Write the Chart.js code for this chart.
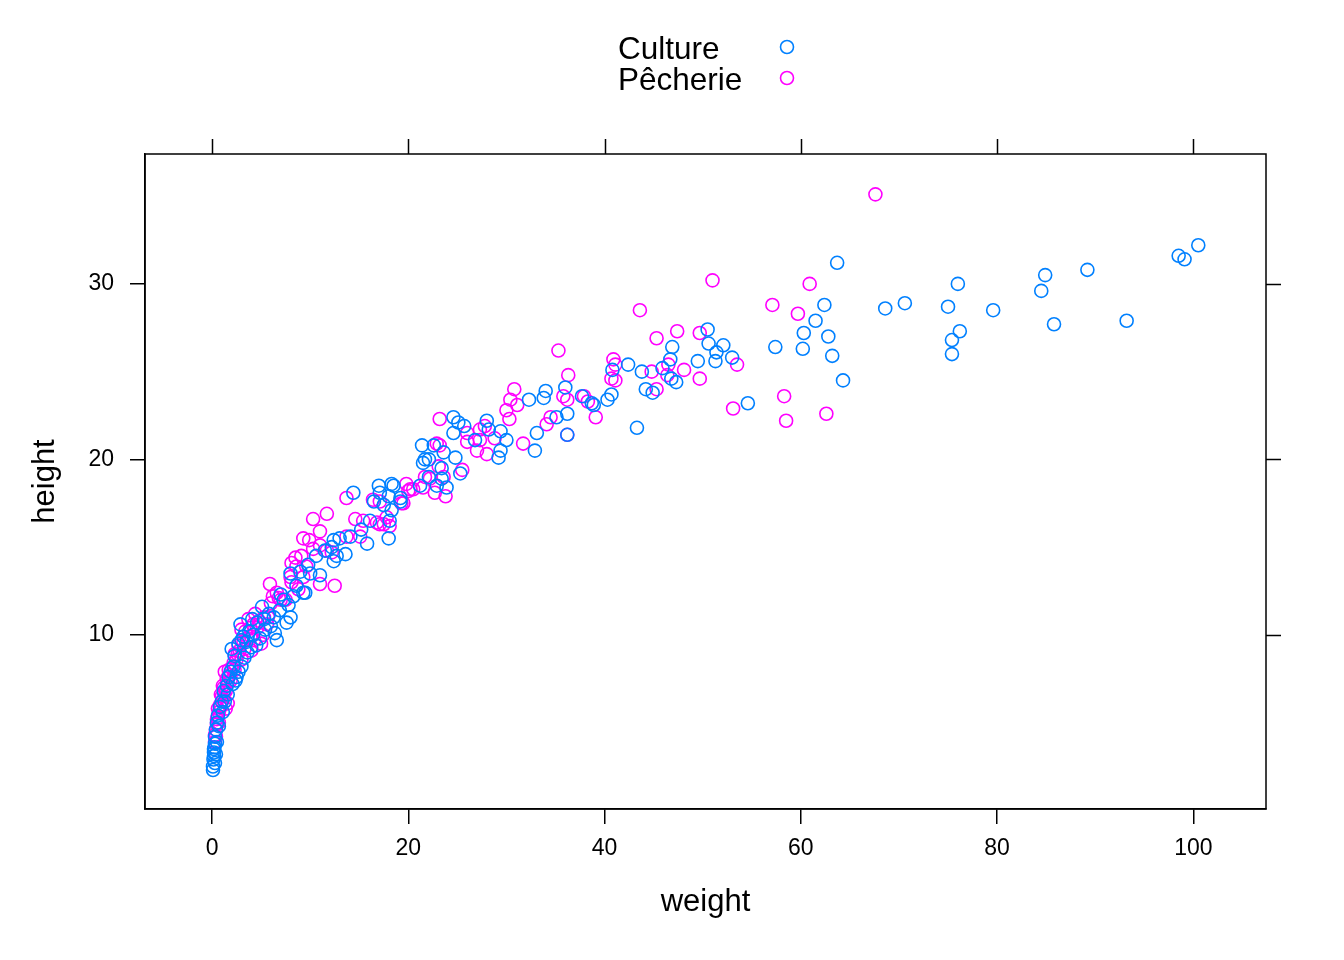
<!DOCTYPE html>
<html>
<head>
<meta charset="utf-8">
<script src="https://cdn.jsdelivr.net/npm/chart.js@4.4.0/dist/chart.umd.min.js"></script>
<style>
  html, body { margin: 0; padding: 0; background: #fff; }
  #wrap { width: 1344px; height: 960px; }
</style>
</head>
<body>
<div id="wrap"><canvas id="plot" width="1344" height="960"></canvas></div>
<script>
// groups
const groups = ['Culture', 'Pêcherie']
const colors = ['#0080ff', '#ff00ff']

// tick labels
const xTicks = [0, 20, 40, 60, 80, 100]
const yTicks = [10, 20, 30]

// Culture (weight, height)
const cultureWeight = [0.1, 0.1, 0.15, 0.2, 0.2, 0.25, 0.3, 0.2, 0.3, 0.4, 0.5, 0.6, 0.8, 1.0, 1.2, 1.5, 1.7, 1.9, 2.2, 2.5,
  2.7, 2.3, 2.0, 2.7, 2.9, 3.2, 3.5, 3.8, 4.2, 4.5, 4.9, 5.1, 5.4, 5.8, 6.4, 6.6, 6.3, 6.9, 7.3, 7.6,
  8.0, 7.8, 8.0, 8.6, 9.0, 9.3, 9.5, 9.8, 10.0, 10.6, 11.0, 11.5, 12.2, 12.4, 12.4, 12.7, 13.0, 13.6, 14.1, 14.4,
  15.2, 15.8, 16.1, 16.5, 17.0, 17.1, 17.5, 18.0, 18.0, 18.1, 18.3, 18.5, 18.3, 19.2, 19.2, 21.2, 21.4, 21.5, 21.7, 22.1,
  22.1, 22.6, 22.9, 23.4, 23.4, 23.6, 23.9, 24.6, 24.6, 24.8, 25.1, 25.3, 25.7, 26.8, 28.0, 28.2, 29.2, 29.4, 29.4, 30.0,
  32.3, 32.9, 33.1, 33.8, 34.0, 35.1, 36.0, 36.2, 36.2, 37.7, 38.7, 38.9, 40.3, 40.7, 40.8, 42.4, 43.3, 43.8, 44.2, 44.9,
  45.9, 46.7, 46.8, 46.9, 47.3, 49.5, 50.5, 50.6, 51.3, 51.4, 52.1, 53.0, 54.6, 57.4, 60.2, 60.3, 61.5, 62.4, 62.8, 63.2,
  63.7, 64.3, 68.6, 70.6, 75.0, 75.4, 75.4, 76.0, 76.2, 79.6, 84.5, 84.9, 85.8, 89.2, 93.2, 98.5, 99.1, 100.5,
  0.3, 0.4, 0.5, 0.7, 1.1, 1.3, 1.6, 2.1, 2.4, 3.0, 3.3, 3.6, 4.0, 4.6, 5.3, 6.0, 3.0, 4.1, 7.0, 8.3]
const cultureHeight = [2.3, 2.5, 2.9, 3.1, 3.3, 3.6, 3.8, 3.5, 4.2, 4.6, 5.0, 5.4, 5.9, 6.2, 6.8, 7.1, 7.6, 7.9, 8.2, 7.6,
  7.9, 8.8, 9.2, 9.5, 10.6, 9.9, 9.6, 10.2, 10.0, 9.4, 9.8, 11.6, 10.3, 11.2, 10.1, 9.7, 11.0, 11.4, 12.0, 10.7,
  11.0, 11.7, 13.5, 12.8, 13.6, 12.4, 12.4, 14.0, 13.5, 14.5, 13.4, 14.8, 15.0, 15.4, 14.2, 14.5, 15.5, 14.6, 15.6, 18.1,
  16.0, 15.2, 16.5, 17.6, 18.5, 18.1, 17.4, 17.9, 15.5, 16.5, 17.1, 18.5, 18.6, 17.6, 17.8, 18.5, 20.8, 19.8, 20.0, 20.0,
  19.0, 20.8, 18.5, 19.5, 18.9, 20.4, 18.4, 22.4, 21.5, 20.1, 22.1, 19.2, 21.9, 21.1, 22.2, 21.7, 20.1, 21.6, 20.5, 21.1,
  23.4, 20.5, 21.5, 23.5, 23.9, 22.4, 24.1, 22.6, 21.4, 23.6, 23.2, 23.1, 23.4, 23.7, 25.1, 25.4, 21.8, 25.0, 24.0, 23.8,
  25.2, 25.7, 24.6, 26.4, 24.4, 25.6, 27.4, 26.6, 25.6, 26.1, 26.5, 25.8, 23.2, 26.4, 26.3, 27.2, 27.9, 28.8, 27.0, 25.9,
  31.2, 24.5, 28.6, 28.9, 28.7, 26.8, 26.0, 30.0, 27.3, 28.5, 29.6, 30.5, 27.7, 30.8, 27.9, 31.6, 31.4, 32.2,
  2.7, 3.2, 3.9, 4.8, 5.6, 6.2, 6.6, 7.2, 7.4, 8.2, 8.7, 9.0, 9.3, 10.7, 10.9, 10.5, 9.7, 10.9, 12.3, 12.2]

// Pêcherie (weight, height)
const pecheWeight = [0.3, 0.4, 0.4, 0.5, 0.6, 0.7, 0.6, 0.8, 0.9, 1.1, 1.2, 1.4, 1.3, 1.6, 1.8, 1.6, 1.4, 2.0, 2.3, 2.5,
  2.7, 3.0, 3.0, 3.3, 3.6, 3.7, 4.0, 4.0, 4.2, 4.4, 4.6, 5.0, 5.2, 5.6, 5.7, 5.9, 6.2, 6.6, 6.8, 7.5,
  8.0, 8.1, 8.1, 8.5, 8.6, 8.8, 9.1, 9.3, 9.3, 9.6, 9.9, 10.3, 10.3, 11.0, 11.0, 11.0, 11.7, 11.7, 12.2, 12.5,
  13.7, 13.7, 14.6, 15.1, 15.4, 16.4, 16.8, 17.1, 17.1, 17.5, 17.8, 18.1, 19.3, 19.5, 19.8, 20.0, 20.2, 20.5, 21.5, 21.7,
  22.2, 22.7, 22.9, 23.1, 23.2, 23.2, 23.6, 23.8, 25.5, 26.0, 26.0, 27.0, 27.3, 27.3, 27.8, 28.0, 28.8, 30.0, 30.3, 30.4,
  30.8, 31.1, 31.7, 34.1, 34.5, 35.3, 35.8, 36.2, 36.2, 36.3, 37.9, 38.3, 39.1, 40.7, 40.9, 41.1, 41.1, 43.6, 44.8, 45.3,
  45.3, 46.4, 46.5, 47.4, 48.1, 49.7, 49.7, 51.0, 53.1, 53.5, 57.1, 58.3, 58.5, 59.7, 60.9, 62.6, 67.6,
  0.3, 0.5, 0.7, 0.9, 1.0, 1.1, 1.5, 1.7, 1.9, 2.2, 2.6, 2.8, 3.2, 3.4, 3.9, 4.3, 4.8, 5.3, 6.0, 7.0, 2.3, 1.2]
const pecheHeight = [3.9, 4.2, 4.6, 4.9, 5.3, 5.6, 5.8, 6.0, 6.6, 6.3, 7.0, 6.8, 7.9, 7.3, 7.7, 6.1, 5.8, 8.1, 8.0, 8.6,
  9.4, 8.6, 10.3, 9.2, 9.8, 10.9, 9.1, 9.9, 10.6, 11.2, 10.4, 9.5, 10.0, 10.6, 11.0, 12.9, 12.2, 12.4, 12.1, 12.0,
  13.3, 13.0, 14.1, 14.4, 13.9, 12.6, 14.5, 15.5, 13.3, 13.9, 15.4, 16.6, 14.9, 15.9, 15.1, 12.9, 16.9, 14.8, 14.7, 12.8,
  17.8, 15.6, 16.6, 15.6, 16.5, 17.7, 16.4, 17.6, 16.3, 16.3, 16.7, 16.2, 17.5, 17.5, 18.6, 18.2, 18.3, 18.3, 18.4, 19.0,
  18.9, 18.1, 20.9, 19.6, 20.8, 22.3, 19.0, 17.9, 19.4, 21.5, 21.0, 20.5, 21.7, 21.1, 21.9, 20.3, 21.2, 22.8, 22.3, 23.4,
  24.0, 23.1, 20.9, 22.0, 22.4, 26.2, 23.6, 23.4, 21.4, 24.8, 23.6, 23.3, 22.4, 24.6, 25.7, 25.4, 24.5, 28.5, 25.0, 26.9,
  24.0, 24.8, 25.4, 27.3, 25.1, 27.2, 24.6, 30.2, 22.9, 25.4, 28.8, 23.6, 22.2, 28.3, 30.0, 22.6, 35.1,
  4.3, 5.2, 5.0, 5.9, 6.5, 7.1, 7.5, 8.0, 7.4, 8.4, 8.9, 9.1, 9.6, 10.2, 10.4, 9.7, 10.8, 11.0, 11.8, 12.0, 8.9, 6.7]

const toPoints = (xs, ys) => xs.map((x, i) => ({ x: x, y: ys[i] }))

const FONT = '"Liberation Sans", Arial, Helvetica, sans-serif'

// frame, top/right ticks, axis titles and the lattice-style key
const latticeDecor = {
    id: 'latticeDecor',
    afterDraw(chart) {
        const c = chart.ctx
        const a = chart.chartArea
        const xs = chart.scales.x
        const ys = chart.scales.y
        c.save()
        c.strokeStyle = '#000'
        c.lineWidth = 1.5
        c.strokeRect(a.left, a.top, a.right - a.left, a.bottom - a.top)
        c.beginPath()
        xTicks.forEach(v => {
            const px = Math.round(xs.getPixelForValue(v)) + 0.5
            c.moveTo(px, a.top)
            c.lineTo(px, a.top - 15)
        })
        yTicks.forEach(v => {
            const py = Math.round(ys.getPixelForValue(v)) + 0.5
            c.moveTo(a.right, py)
            c.lineTo(a.right + 15, py)
        })
        c.stroke()

        c.fillStyle = '#000'
        c.font = '31px ' + FONT
        c.textAlign = 'center'
        c.textBaseline = 'middle'
        c.fillText('weight', (a.left + a.right) / 2, 902)
        c.save()
        c.translate(45, (a.top + a.bottom) / 2)
        c.rotate(-Math.PI / 2)
        c.fillText('height', 0, 0)
        c.restore()

        c.font = '31.5px ' + FONT
        c.textAlign = 'left'
        groups.forEach((g, i) => {
            const y = 49 + i * 31
            c.fillStyle = '#000'
            c.fillText(g, 618, y + 1)
            c.beginPath()
            c.strokeStyle = colors[i]
            c.lineWidth = 1.6
            c.arc(787, y - 2, 6.5, 0, Math.PI * 2)
            c.stroke()
        })
        c.restore()
    }
}

const ctx = document.getElementById('plot').getContext('2d')

const scatterData = {
    datasets: groups.map((g, i) => ({
        label: g,
        data: i === 0 ? toPoints(cultureWeight, cultureHeight) : toPoints(pecheWeight, pecheHeight),
        borderColor: colors[i],
        backgroundColor: 'rgba(0,0,0,0)',
        borderWidth: 1.6,
        pointRadius: 6.5,
        pointHoverRadius: 6.5,
        showLine: false
    }))
}

const axisCommon = {
    type: 'linear',
    grid: {
        drawOnChartArea: false,
        drawTicks: true,
        tickLength: 15,
        tickColor: '#000',
        lineWidth: 1.5
    },
    border: { display: true, color: '#000', width: 1.5 },
    title: { display: false }
}

new Chart(ctx, {
    type: 'scatter',
    data: scatterData,
    options: {
        responsive: false,
        animation: false,
        events: [],
        layout: { padding: { top: 154, right: 78, left: 0, bottom: 0 } },
        plugins: {
            legend: { display: false },
            tooltip: { enabled: false }
        },
        scales: {
            x: Object.assign({}, axisCommon, {
                position: 'bottom',
                min: -6.83,
                max: 107.4,
                afterBuildTicks: s => { s.ticks = xTicks.map(v => ({ value: v })) },
                afterFit: s => { s.height = 151 },
                ticks: { color: '#000', font: { family: FONT, size: 23 }, padding: 11, maxRotation: 0 }
            }),
            y: Object.assign({}, axisCommon, {
                position: 'left',
                min: 0.08,
                max: 37.4,
                afterBuildTicks: s => { s.ticks = yTicks.map(v => ({ value: v })) },
                afterFit: s => { s.width = 145 },
                ticks: { color: '#000', font: { family: FONT, size: 23 }, padding: 16 }
            })
        }
    },
    plugins: [latticeDecor]
})
</script>
</body>
</html>
